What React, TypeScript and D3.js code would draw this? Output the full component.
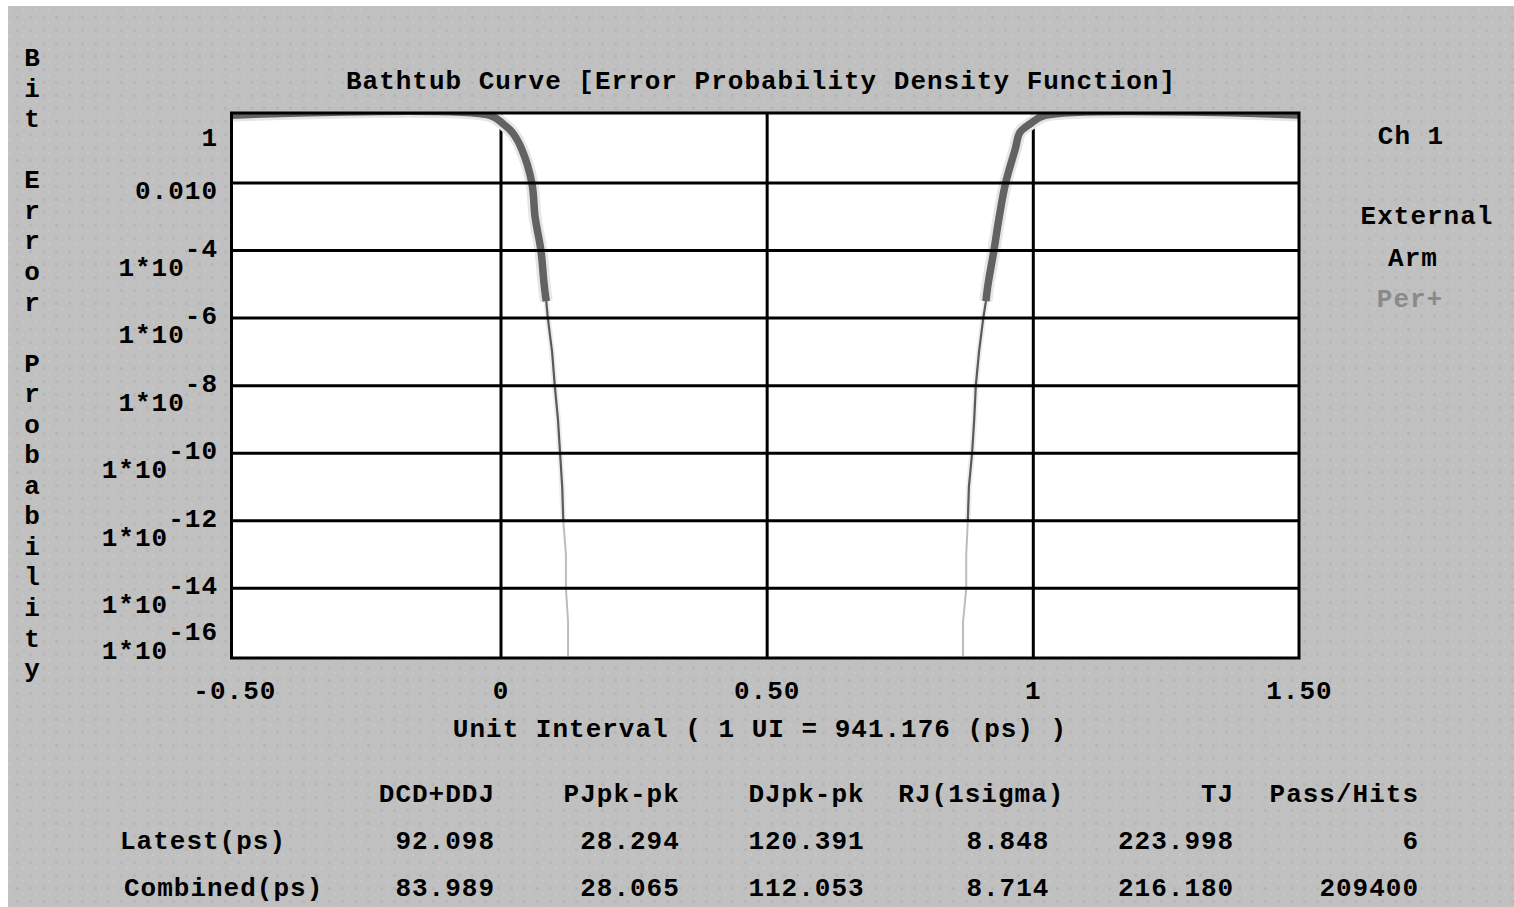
import React from "react";
import * as d3 from "d3";

// ---------- data ----------
const berExp = [0, -0.25, -0.5, -1, -2, -3, -4, -5, -5.5, -6, -7, -8, -9, -10, -11, -12, -13, -14, -15, -16];
const leftEdgeUI = [-0.021, 0.004, 0.021, 0.039, 0.058, 0.064, 0.075, 0.081, 0.085, 0.088, 0.096, 0.101, 0.107, 0.111, 0.115, 0.117, 0.122, 0.122, 0.126, 0.126];
const rightEdgeUI = [1.022, 0.994, 0.975, 0.966, 0.948, 0.936, 0.926, 0.915, 0.911, 0.906, 0.898, 0.892, 0.889, 0.885, 0.879, 0.877, 0.874, 0.874, 0.868, 0.868];

const xTicks = [-0.5, 0, 0.5, 1, 1.5];
const xTickLabels = ["-0.50", "0", "0.50", "1", "1.50"];
const yTickExps = [0, -2, -4, -6, -8, -10, -12, -14, -16];
const yTickPlain = ["1", "0.010"];

const title = "Bathtub Curve [Error Probability Density Function]";
const xTitle = "Unit Interval ( 1 UI = 941.176 (ps) )";
const yTitle = "Bit Error Probability";
const sideLabels = ["Ch 1", "External", "Arm", "Per+"];

const tableHeaders = ["DCD+DDJ", "PJpk-pk", "DJpk-pk", "RJ(1sigma)", "TJ", "Pass/Hits"];
const rowLabels = ["Latest(ps)", "Combined(ps)"];
const latestValues = ["92.098", "28.294", "120.391", "8.848", "223.998", "6"];
const combinedValues = ["83.989", "28.065", "112.053", "8.714", "216.180", "209400"];

// ---------- layout ----------
const W = 1514, H = 907;
const FONT = "'Liberation Mono', 'DejaVu Sans Mono', monospace";
const FS = 26;
const LS = 1.0;
const CH = FS * 0.6 + LS;
const plot = { left: 231.5, right: 1299, top: 113, bottom: 658 };

const xScale = d3.scaleLinear().domain([0, 1]).range([501, 1033.3]);
const yScale = d3.scaleLinear().domain([0, -16]).range([115.4, 655.9]);
const colX = d3.scaleLinear().domain([0, 5]).range([495, 1419]);

type Pt = { ui: number; e: number };

const leftPts: Pt[] = [{ ui: -0.52, e: 0 }, ...berExp.map((e, i) => ({ ui: leftEdgeUI[i], e }))];
const rightPts: Pt[] = [{ ui: 1.52, e: 0 }, ...berExp.map((e, i) => ({ ui: rightEdgeUI[i], e }))];

const line = d3
  .line<Pt>()
  .x((d) => xScale(d.ui))
  .y((d) => yScale(d.e))
  .curve(d3.curveCatmullRom.alpha(0.5));
const lineLin = d3
  .line<Pt>()
  .x((d) => xScale(d.ui))
  .y((d) => yScale(d.e))
  .curve(d3.curveLinear);

const seg = (pts: Pt[], hi: number, lo: number) => pts.filter((p) => p.e <= hi && p.e >= lo);

function Curve({ pts }: { pts: Pt[] }) {
  const thick = seg(pts, 0, -5.5);
  const thin = seg(pts, -5.5, -12);
  const light = seg(pts, -12, -16);
  return (
    <g fill="none" strokeLinejoin="round" clipPath="url(#plotclip)">
      <path d={line(thick) || ""} stroke="#e6e6e6" strokeWidth={13} />
      <path d={lineLin(thin) || ""} stroke="#eeeeee" strokeWidth={6} />
      <path d={line(thick) || ""} stroke="#626262" strokeWidth={7.5} />
      <path d={lineLin(thin) || ""} stroke="#5a5a5a" strokeWidth={2.2} />
      <path d={lineLin(light) || ""} stroke="#bdbdbd" strokeWidth={2} />
    </g>
  );
}

export default function App() {
  const txt = { fontFamily: FONT, fontSize: FS, fontWeight: 700, letterSpacing: LS, fill: "#000" } as const;
  return (
    <div style={{ position: "absolute", left: 0, top: 0, width: W, height: H, overflow: "hidden" }}>
      <svg width={W} height={H} style={{ display: "block" }}>
        <defs>
          <pattern id="dots" width={13} height={13} patternUnits="userSpaceOnUse">
            <rect width={13} height={13} fill="#c0c0c0" />
            <rect x={3} y={3} width={3} height={3} fill="#b7b7b7" />
            <rect x={9} y={9} width={2} height={2} fill="#c8c8c8" />
          </pattern>
          <clipPath id="plotclip">
            <rect x={plot.left} y={plot.top} width={plot.right - plot.left} height={plot.bottom - plot.top} />
          </clipPath>
        </defs>
        <rect x={0} y={0} width={W} height={H} fill="#fff" />
        <rect x={8} y={6} width={W - 8} height={H - 6} fill="url(#dots)" />

        {/* plot area */}
        <rect x={plot.left} y={plot.top} width={plot.right - plot.left} height={plot.bottom - plot.top} fill="#fff" />

        {/* vertical grid */}
        {[0, 0.5, 1].map((v) => (
          <line key={v} x1={xScale(v)} x2={xScale(v)} y1={plot.top} y2={plot.bottom} stroke="#000" strokeWidth={3} />
        ))}

        <Curve pts={leftPts} />
        <Curve pts={rightPts} />

        {/* horizontal grid */}
        {[-2, -4, -6, -8, -10, -12, -14].map((e) => (
          <line key={e} x1={plot.left} x2={plot.right} y1={yScale(e)} y2={yScale(e)} stroke="#000" strokeWidth={3} />
        ))}

        <rect x={plot.left} y={plot.top} width={plot.right - plot.left} height={plot.bottom - plot.top} fill="none" stroke="#000" strokeWidth={3} />

        {/* title */}
        <text {...txt} x={761} y={80} textAnchor="middle" dy="0.35em">{title}</text>

        {/* y axis vertical title */}
        {yTitle.split("").map((c, i) => (
          <text key={i} {...txt} letterSpacing={0} x={32} y={57 + i * 30.55} textAnchor="middle" dy="0.35em">{c}</text>
        ))}

        {/* y tick labels */}
        {yTickExps.map((e, i) => {
          const y = yScale(e);
          if (i < yTickPlain.length) {
            const cy = Math.max(y + 7, 137);
            return (
              <text key={e} {...txt} x={218} y={cy} textAnchor="end" dy="0.35em">{yTickPlain[i]}</text>
            );
          }
          const base = Math.min(y + 16, 650);
          const sup = String(e);
          return (
            <g key={e}>
              <text {...txt} x={218} y={base - 19} textAnchor="end" dy="0.35em">{sup}</text>
              <text {...txt} x={218 - sup.length * CH} y={base} textAnchor="end" dy="0.35em">1*10</text>
            </g>
          );
        })}

        {/* x tick labels */}
        {xTicks.map((v, i) => (
          <text key={v} {...txt} x={xScale(v)} y={690} textAnchor="middle" dy="0.35em">{xTickLabels[i]}</text>
        ))}
        <text {...txt} x={760} y={728} textAnchor="middle" dy="0.35em">{xTitle}</text>

        {/* side labels */}
        <text {...txt} x={1411} y={135} textAnchor="middle" dy="0.35em">{sideLabels[0]}</text>
        <text {...txt} x={1427} y={215} textAnchor="middle" dy="0.35em">{sideLabels[1]}</text>
        <text {...txt} x={1413} y={257} textAnchor="middle" dy="0.35em">{sideLabels[2]}</text>
        <text {...txt} x={1410} y={298} textAnchor="middle" dy="0.35em" fill="#8a8a8a">{sideLabels[3]}</text>

        {/* table */}
        {tableHeaders.map((h, i) => (
          <text key={h} {...txt} x={colX(i) + (i === 3 ? 15 : 0)} y={793} textAnchor="end" dy="0.35em">{h}</text>
        ))}
        <text {...txt} x={120} y={840} dy="0.35em">{rowLabels[0]}</text>
        <text {...txt} x={124} y={887} dy="0.35em">{rowLabels[1]}</text>
        {latestValues.map((v, i) => (
          <text key={"l" + i} {...txt} x={colX(i)} y={840} textAnchor="end" dy="0.35em">{v}</text>
        ))}
        {combinedValues.map((v, i) => (
          <text key={"c" + i} {...txt} x={colX(i)} y={887} textAnchor="end" dy="0.35em">{v}</text>
        ))}
      </svg>
    </div>
  );
}
